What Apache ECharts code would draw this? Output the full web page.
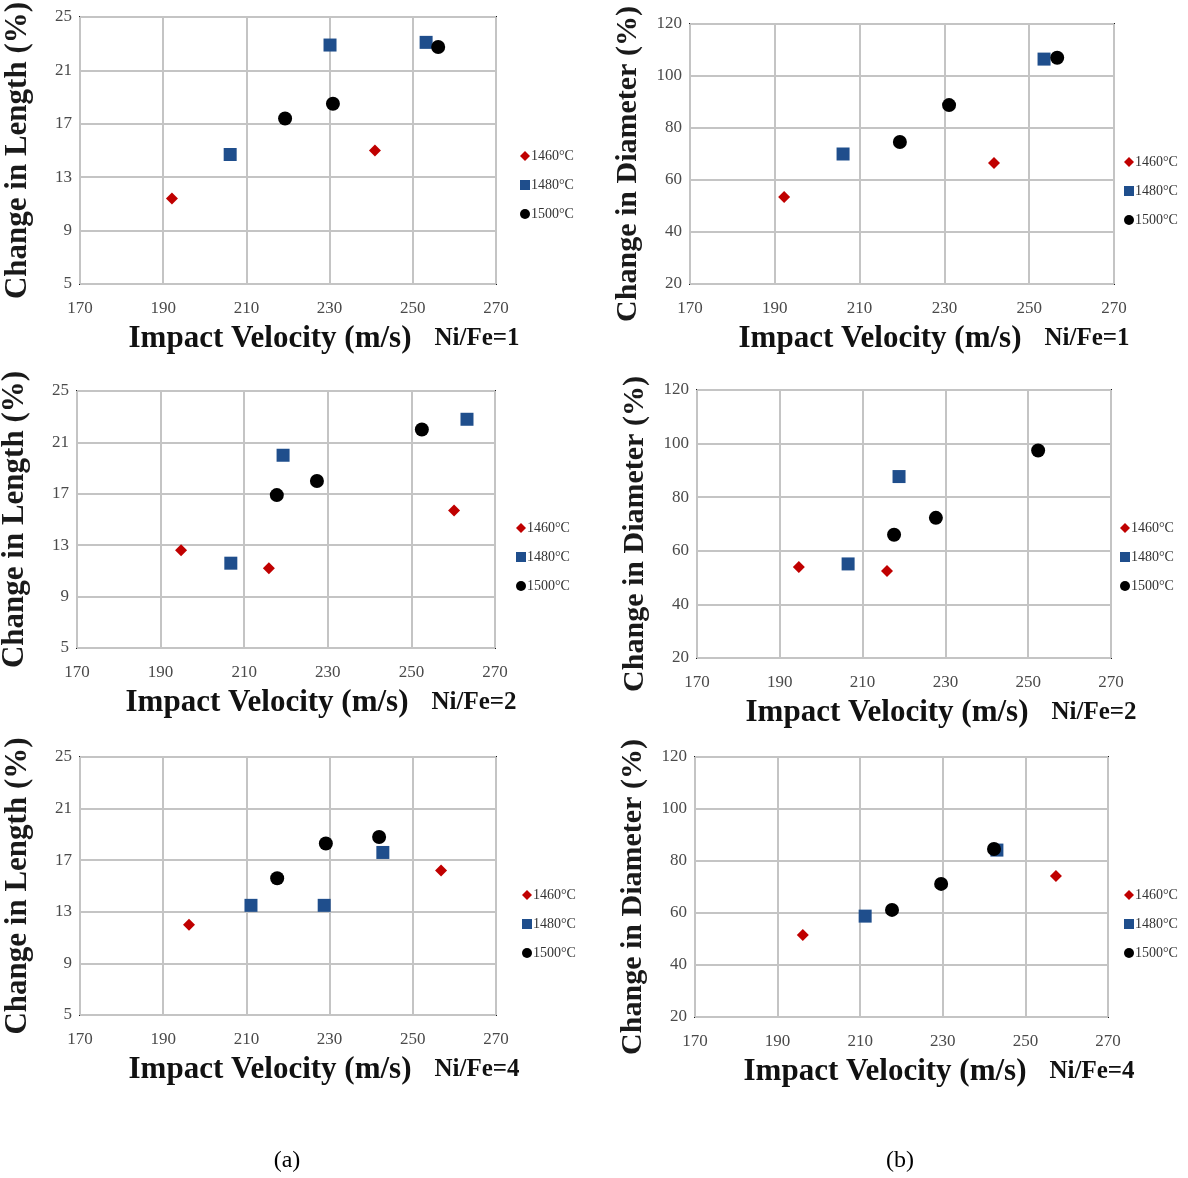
<!DOCTYPE html>
<html lang="en">
  <head>
    <meta charset="UTF-8" />
    <title>Impact velocity</title>
    <script src="https://cdn.jsdelivr.net/npm/echarts@6/dist/echarts.min.js"></script>
    <style>
      html, body { margin: 0; padding: 0; background: #fff; }
    </style>
  </head>
  <body>
    <div id="main" style="width: 1188px; height: 1178px;"></div>
    <script type="text/javascript">
      var myChart = echarts.init(document.getElementById('main'))

      // series names (legend)
      var temps = ['1460°C', '1480°C', '1500°C']
      var ratios = ['Ni/Fe=1', 'Ni/Fe=2', 'Ni/Fe=4']
      var xTicks = [170, 190, 210, 230, 250, 270]

      // change in length (%), [velocity, value]
      var lenNi1_1460 = [[192.1, 11.4], [240.9, 15.0]]
      var lenNi1_1480 = [[206.1, 14.7], [230.1, 22.9], [253.2, 23.1]]
      var lenNi1_1500 = [[219.3, 17.4], [230.8, 18.5], [256.1, 22.75]]

      var lenNi2_1460 = [[194.9, 12.6], [215.9, 11.2], [260.2, 15.7]]
      var lenNi2_1480 = [[206.8, 11.6], [219.3, 20.0], [263.3, 22.8]]
      var lenNi2_1500 = [[217.8, 16.9], [227.4, 18.0], [252.5, 22.0]]

      var lenNi4_1460 = [[196.2, 12.0], [256.8, 16.2]]
      var lenNi4_1480 = [[211.1, 13.5], [228.7, 13.5], [242.8, 17.6]]
      var lenNi4_1500 = [[217.4, 15.6], [229.1, 18.3], [241.9, 18.8]]

      // change in diameter (%), [velocity, value]
      var diaNi1_1460 = [[192.2, 53.5], [241.7, 66.5]]
      var diaNi1_1480 = [[206.1, 70.0], [253.5, 106.5]]
      var diaNi1_1500 = [[219.5, 74.6], [231.1, 88.8], [256.6, 107.0]]

      var diaNi2_1460 = [[194.6, 54.0], [215.9, 52.5]]
      var diaNi2_1480 = [[206.5, 55.1], [218.8, 87.7]]
      var diaNi2_1500 = [[217.6, 66.0], [227.7, 72.3], [252.4, 97.4]]

      var diaNi4_1460 = [[196.1, 51.5], [257.4, 74.2]]
      var diaNi4_1480 = [[211.2, 58.8], [243.1, 84.2]]
      var diaNi4_1500 = [[217.7, 61.2], [229.6, 71.2], [242.4, 84.6]]

      var panels = [
        { kind: 'len', ratio: 0, grid: { left: 80, top: 17, width: 416, height: 267 }, data: [lenNi1_1460, lenNi1_1480, lenNi1_1500], legend: [515, 144] },
        { kind: 'dia', ratio: 0, grid: { left: 690, top: 24, width: 424, height: 260 }, data: [diaNi1_1460, diaNi1_1480, diaNi1_1500], legend: [1119, 150] },
        { kind: 'len', ratio: 1, grid: { left: 77, top: 391, width: 418, height: 257 }, data: [lenNi2_1460, lenNi2_1480, lenNi2_1500], legend: [511, 516] },
        { kind: 'dia', ratio: 1, grid: { left: 697, top: 390, width: 414, height: 268 }, data: [diaNi2_1460, diaNi2_1480, diaNi2_1500], legend: [1115, 516] },
        { kind: 'len', ratio: 2, grid: { left: 80, top: 757, width: 416, height: 258 }, data: [lenNi4_1460, lenNi4_1480, lenNi4_1500], legend: [517, 883] },
        { kind: 'dia', ratio: 2, grid: { left: 695, top: 757, width: 413, height: 260 }, data: [diaNi4_1460, diaNi4_1480, diaNi4_1500], legend: [1119, 883] }
      ]

      var serif = '"Liberation Serif", "Times New Roman", serif'
      var marks = [
        { symbol: 'diamond', size: 12, color: '#c00000' },
        { symbol: 'rect', size: 13, color: '#1f4e8c' },
        { symbol: 'circle', size: 14, color: '#000000' }
      ]

      var grids = [], xAxes = [], yAxes = [], series = [], legends = [], texts = []

      panels.forEach(function (p, i) {
        var g = p.grid
        grids.push({ left: g.left, top: g.top, width: g.width, height: g.height, show: true, borderColor: '#1a1a1a', borderWidth: 2, backgroundColor: '#fff' })
        xAxes.push({
          gridIndex: i, type: 'value', min: 170, max: 270, interval: 20,
          axisLine: { show: false }, axisTick: { show: false },
          axisLabel: { fontFamily: serif, fontSize: 17, color: '#4a4a4a', margin: 16 },
          splitLine: { lineStyle: { color: '#c4c4c4', width: 2 } }
        })
        var isLen = p.kind === 'len'
        yAxes.push({
          gridIndex: i, type: 'value',
          min: isLen ? 5 : 20, max: isLen ? 25 : 120, interval: isLen ? 4 : 20,
          axisLine: { show: false }, axisTick: { show: false },
          axisLabel: { fontFamily: serif, fontSize: 17, color: '#4a4a4a', margin: 8 },
          splitLine: { lineStyle: { color: '#c4c4c4', width: 2 } }
        })
        p.data.forEach(function (d, k) {
          series.push({
            name: temps[k], type: 'scatter', xAxisIndex: i, yAxisIndex: i,
            symbol: marks[k].symbol, symbolSize: marks[k].size,
            itemStyle: { color: marks[k].color, opacity: 1 },
            data: d
          })
        })
        legends.push({
          left: p.legend[0], top: p.legend[1], orient: 'vertical', itemGap: 15,
          itemWidth: 10, itemHeight: 10, data: temps, selectedMode: false,
          textStyle: { fontFamily: serif, fontSize: 14, color: '#333', padding: [0, 0, 0, -4] }
        })

        // axis titles
        texts.push({
          type: 'text', x: g.left - 62, y: g.top + g.height / 2 + (isLen ? 0 : 10), rotation: Math.PI / 2,
          style: { text: isLen ? 'Change in Length (%)' : 'Change in Diameter (%)', font: 'bold ' + (isLen ? 31 : 30) + 'px ' + serif, fill: '#1a1a1a', align: 'center', verticalAlign: 'middle' }
        })
        var rowY = g.top + g.height + 55
        texts.push({
          type: 'text', x: g.left + 190, y: rowY,
          style: { text: 'Impact Velocity (m/s)', font: 'bold 31px ' + serif, fill: '#111', align: 'center', verticalAlign: 'middle' }
        })
        texts.push({
          type: 'text', x: g.left + 397, y: rowY,
          style: { text: ratios[p.ratio], font: 'bold 25px ' + serif, fill: '#111', align: 'center', verticalAlign: 'middle' }
        })
      })

      texts.push({ type: 'text', x: 287, y: 1161, style: { text: '(a)', font: '24px ' + serif, fill: '#000', align: 'center', verticalAlign: 'middle' } })
      texts.push({ type: 'text', x: 900, y: 1161, style: { text: '(b)', font: '24px ' + serif, fill: '#000', align: 'center', verticalAlign: 'middle' } })

      var option = {
        animation: false,
        backgroundColor: '#fff',
        grid: grids,
        xAxis: xAxes,
        yAxis: yAxes,
        legend: legends,
        series: series,
        graphic: texts
      }

      myChart.setOption(option)
    </script>
  </body>
</html>
